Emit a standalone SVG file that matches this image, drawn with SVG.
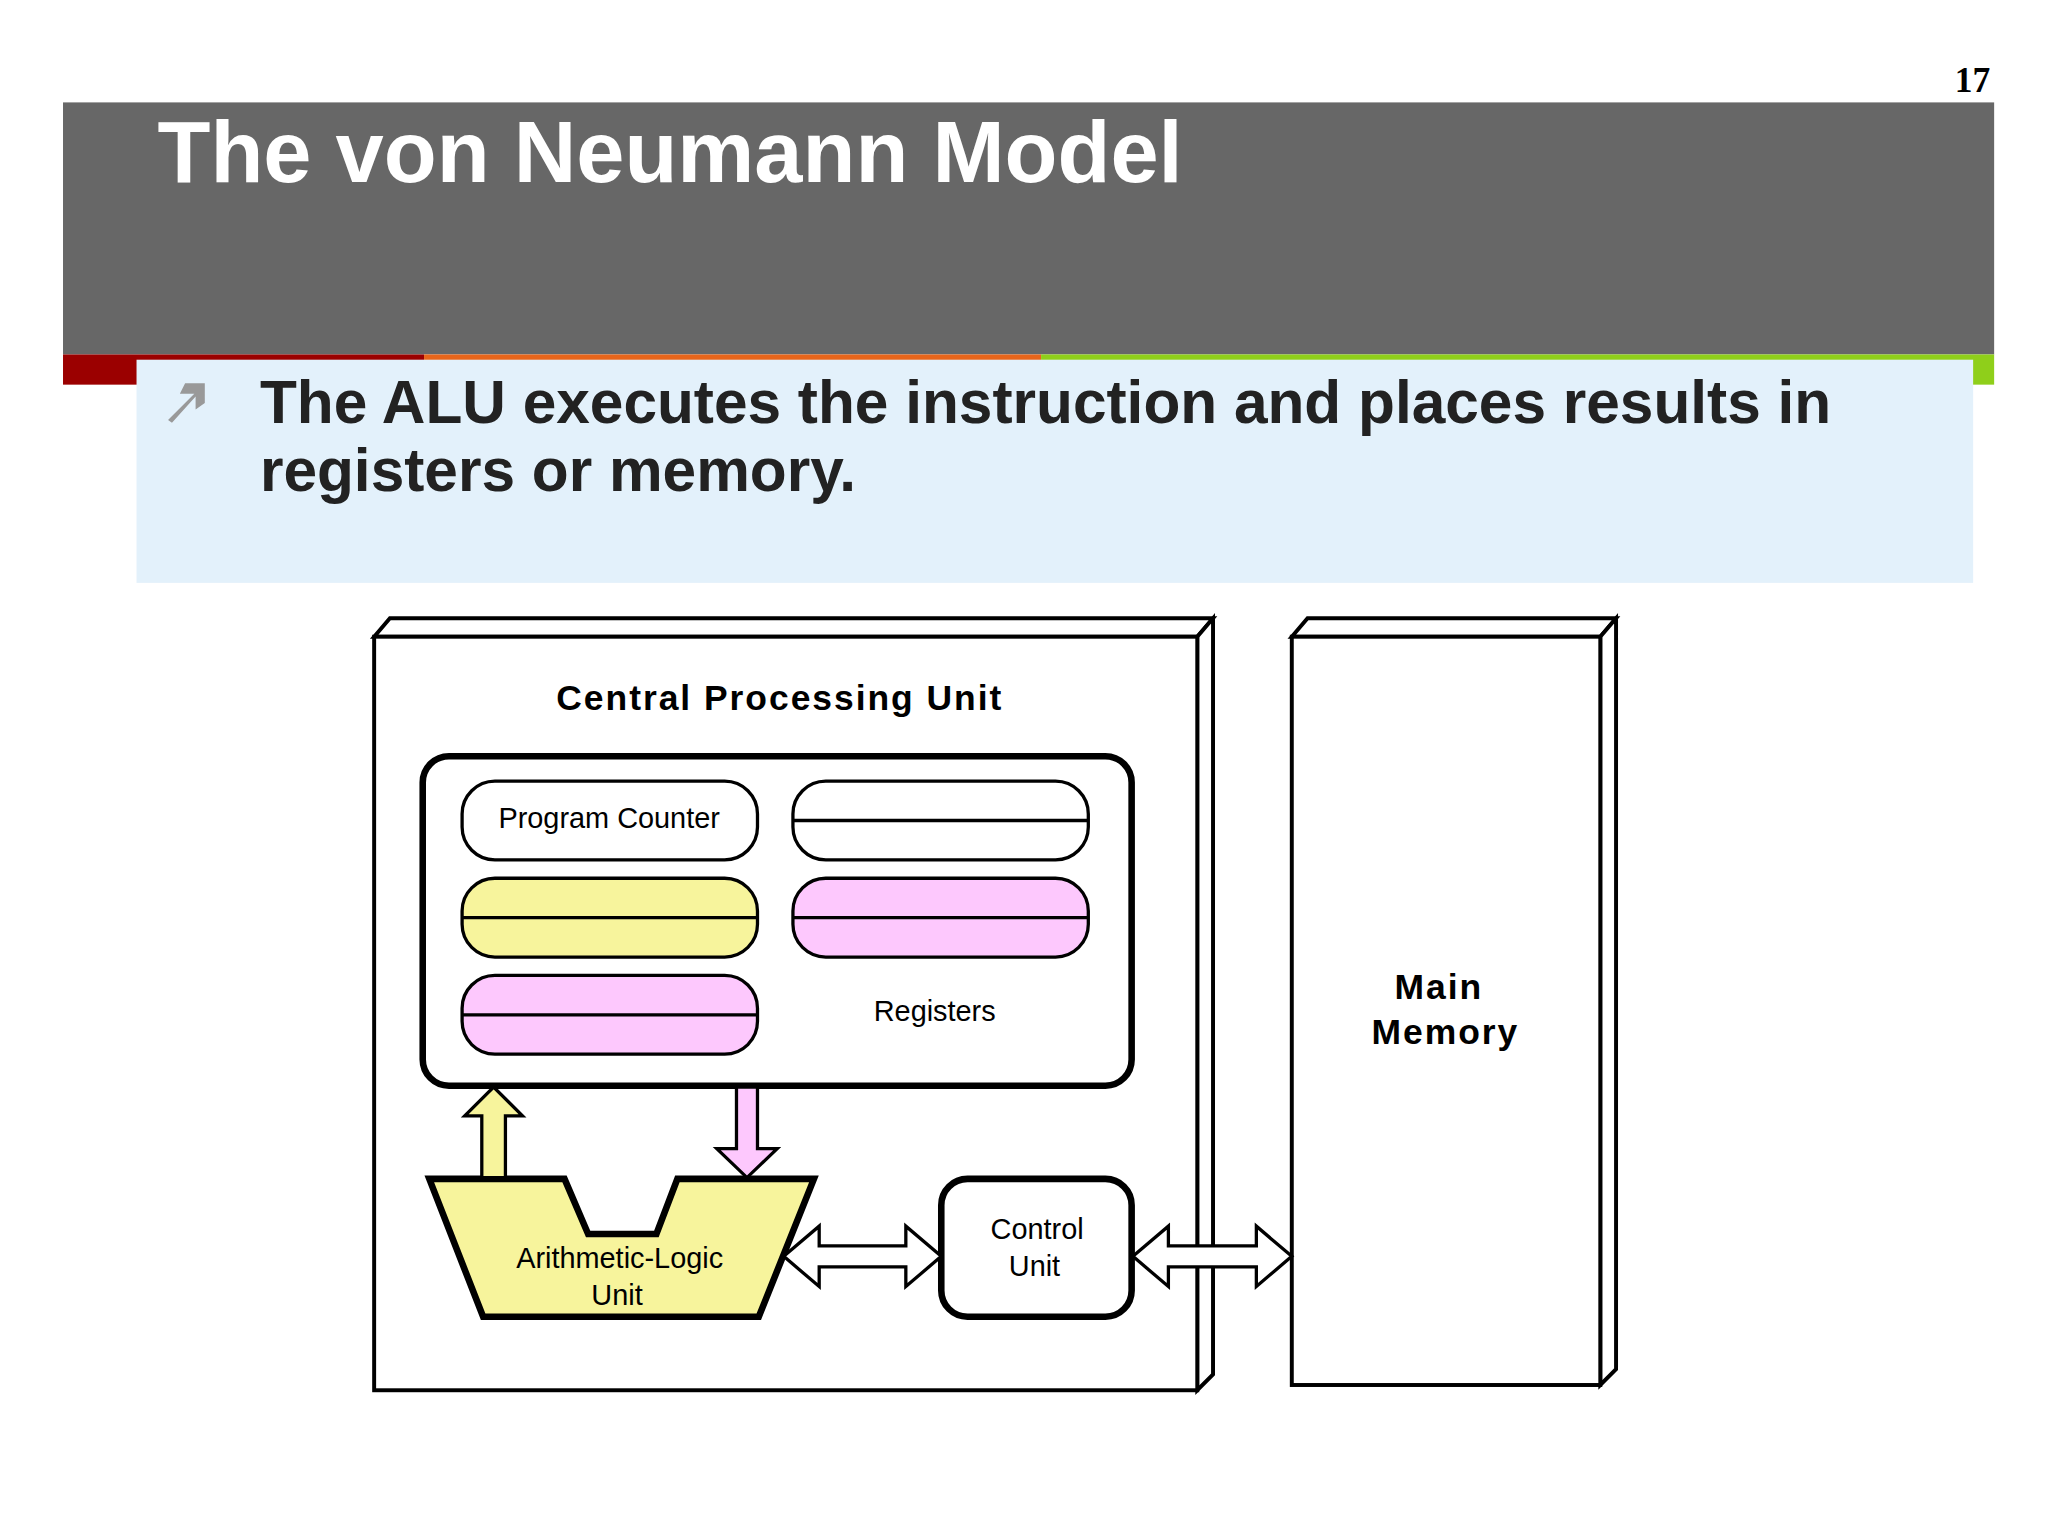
<svg xmlns="http://www.w3.org/2000/svg" width="2048" height="1536" viewBox="0 0 2048 1536">
<style>
.s{stroke:#000;stroke-width:3;fill:#fff}
.t{font-family:"Liberation Sans",Arial,sans-serif;fill:#000;text-anchor:middle}
.arr{stroke:#000;stroke-width:2.5;stroke-linejoin:miter}
</style>
<rect width="2048" height="1536" fill="#fff"/>
<g transform="scale(1.3128)">
<g id="header">
<text x="1516" y="70" font-family="Liberation Serif,serif" font-weight="bold" font-size="27" text-anchor="end">17</text>
<rect x="48" y="78" width="1471" height="192" fill="#676767"/>
<text x="120" y="139" font-family="Liberation Sans,Arial,sans-serif" font-weight="bold" font-size="66" fill="#fff">The von Neumann Model</text>
<rect x="48" y="270" width="275" height="23" fill="#9b0000"/>
<rect x="323" y="270" width="470" height="23" fill="#e8651a"/>
<rect x="793" y="270" width="726" height="23" fill="#8fcf1a"/>
<rect x="104" y="274" width="1399" height="170" fill="#e3f1fb"/>
<path d="M128 320 L148 300 L137 300 L141 292 L156 292 L156 307 L149 312 L149 302 L131 322 Z" fill="#999"/>
<text font-family="Liberation Sans,Arial,sans-serif" font-weight="bold" font-size="46" fill="#222"><tspan x="198" y="322">The ALU executes the instruction and places results in</tspan><tspan x="198" y="374">registers or memory.</tspan></text>
</g>
<g id="cpu">
<polygon class="s" points="285,485 297,471 924,471 912,485"/>
<polygon class="s" points="912,485 924,471 924,1047 912,1059"/>
<rect class="s" x="285" y="485" width="627" height="574"/>
<text class="t" x="594" y="541" font-size="27" font-weight="bold" letter-spacing="1.5">Central Processing Unit</text>
</g>
<g id="memory">
<polygon class="s" points="984,485 996,471 1231,471 1219,485"/>
<polygon class="s" points="1219,485 1231,471 1231,1043 1219,1055"/>
<rect class="s" x="984" y="485" width="235" height="570"/>
<text class="t" font-size="27" font-weight="bold" letter-spacing="1.5"><tspan x="1096" y="761">Main</tspan><tspan x="1101" y="795">Memory</tspan></text>
</g>
<g id="registers">
<rect x="322" y="576" width="540" height="251" rx="20" fill="#fff" stroke="#000" stroke-width="5"/>
<rect x="352" y="595" width="225" height="60" rx="25" fill="#fff" stroke="#000" stroke-width="2.5"/>
<text class="t" x="464" y="631" font-size="22">Program Counter</text>
<rect x="604" y="595" width="225" height="60" rx="25" fill="#fff" stroke="#000" stroke-width="2.5"/>
<line x1="604" y1="625" x2="829" y2="625" stroke="#000" stroke-width="2.5"/>
<rect x="352" y="669" width="225" height="60" rx="25" fill="#f7f49c" stroke="#000" stroke-width="2.5"/>
<line x1="352" y1="699" x2="577" y2="699" stroke="#000" stroke-width="2.5"/>
<rect x="604" y="669" width="225" height="60" rx="25" fill="#fdc8fd" stroke="#000" stroke-width="2.5"/>
<line x1="604" y1="699" x2="829" y2="699" stroke="#000" stroke-width="2.5"/>
<rect x="352" y="743" width="225" height="60" rx="25" fill="#fdc8fd" stroke="#000" stroke-width="2.5"/>
<line x1="352" y1="773" x2="577" y2="773" stroke="#000" stroke-width="2.5"/>
<text class="t" x="712" y="778" font-size="22">Registers</text>
</g>
<g id="alu">
<polygon points="327,898 430,898 448,940 500,940 516,898 620,898 578,1003 368,1003" fill="#f7f49c" stroke="#000" stroke-width="5"/>
<text class="t" font-size="22"><tspan x="472" y="966">Arithmetic-Logic</tspan><tspan x="470" y="994">Unit</tspan></text>
</g>
<g id="control">
<rect x="717" y="898" width="145" height="105" rx="20" fill="#fff" stroke="#000" stroke-width="5"/>
<text class="t" font-size="22"><tspan x="790" y="944">Control</tspan><tspan x="788" y="972">Unit</tspan></text>
</g>
<g id="connectors">
<polygon class="arr" fill="#f7f49c" points="367,897 367,850 354,850 376,828 398,850 385,850 385,897"/>
<polygon class="arr" fill="#fdc8fd" points="561,828 577,828 577,875 592,875 569,897 546,875 561,875"/>
<polygon class="arr" fill="#fff" points="597,957 624,934 624,949 690,949 690,934 717,957 690,980 690,965 624,965 624,980"/>
<polygon class="arr" fill="#fff" points="863,957 890,934 890,949 957,949 957,934 984,957 957,980 957,965 890,965 890,980"/>
</g>
</g>
</svg>
